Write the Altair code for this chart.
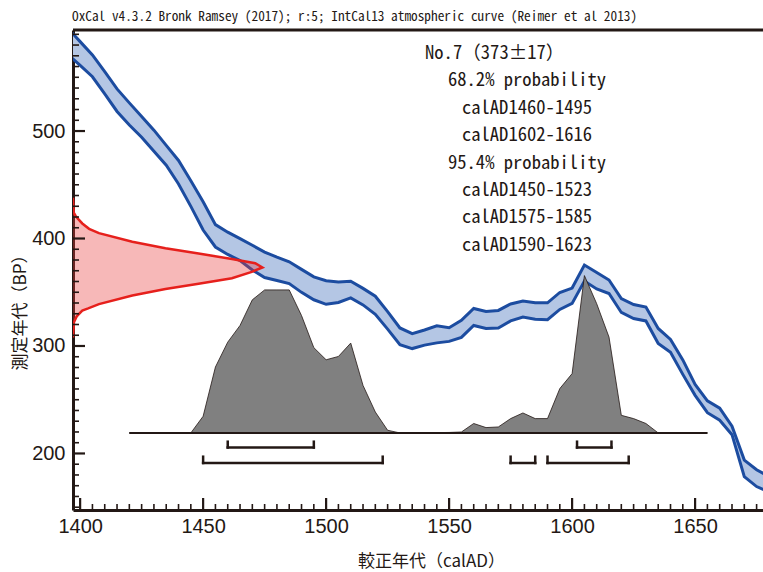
import altair as alt
import pandas as pd

# ---- IntCal13 calibration band (BP), 5-year grid ----
cal_year = [1395, 1400, 1405, 1410, 1415, 1420, 1425, 1430, 1435, 1440,
            1445, 1450, 1455, 1460, 1465, 1470, 1475, 1480, 1485, 1490,
            1495, 1500, 1505, 1510, 1515, 1520, 1525, 1530, 1535, 1540,
            1545, 1550, 1555, 1560, 1565, 1570, 1575, 1580, 1585, 1590,
            1595, 1600, 1605, 1610, 1615, 1620, 1625, 1630, 1635, 1640,
            1645, 1650, 1655, 1660, 1665, 1670, 1675, 1680]
cal_upper = [595.6, 583.2, 570.8, 555.2, 539.2, 526.2, 513.6, 500.8, 486.7, 472.6,
             453.8, 434.1, 412.9, 405.9, 399.9, 393.7, 387.4, 382.6, 378.3, 371.3,
             364.3, 360.7, 359.6, 360.2, 353.6, 346.3, 332.0, 316.8, 311.5, 314.9,
             318.7, 317.0, 323.8, 334.9, 332.1, 333.1, 339.1, 341.9, 340.2, 340.2,
             349.8, 353.9, 375.3, 368.3, 361.4, 344.2, 338.6, 336.3, 316.3, 306.1,
             287.1, 264.3, 249.0, 242.1, 225.3, 193.8, 184.8, 178.5]
cal_lower = [571.5, 561.0, 550.5, 534.6, 518.2, 505.6, 494.2, 481.2, 468.2, 450.8,
             429.9, 407.9, 392.1, 385.2, 379.5, 370.7, 363.7, 360.9, 358.1, 349.9,
             343.0, 338.8, 340.5, 344.7, 338.2, 329.4, 315.7, 301.2, 297.6, 300.8,
             302.9, 304.3, 308.0, 319.1, 316.3, 316.8, 323.3, 327.0, 324.9, 324.4,
             334.0, 339.6, 360.4, 353.0, 348.8, 331.2, 325.6, 323.3, 302.4, 294.1,
             273.6, 254.1, 237.9, 230.9, 217.5, 178.5, 169.2, 164.1]

# ---- measured radiocarbon age 373±17 BP (relative probability) ----
meas_bp = [438, 424, 421, 418, 414, 409, 405, 397, 391, 386, 381, 377, 373,
           369, 363, 358, 353, 347, 339, 335, 333, 329, 327, 322, 308]
meas_p = [0.0, 0.004, 0.014, 0.028, 0.049, 0.085, 0.137, 0.313, 0.488, 0.663, 0.839, 0.962, 1.0,
          0.944, 0.839, 0.663, 0.488, 0.313, 0.137, 0.08, 0.049, 0.027, 0.018, 0.005, 0.0]

# ---- calibrated date distribution (relative probability) ----
post_year = [1420, 1445, 1450, 1455, 1460, 1465, 1470, 1475, 1480, 1485,
             1490, 1495, 1500, 1505, 1510, 1515, 1520, 1525, 1530, 1550,
             1555, 1560, 1565, 1570, 1575, 1580, 1585, 1590, 1595, 1600,
             1605, 1610, 1615, 1620, 1625, 1630, 1635, 1655]
post_p = [0.0, 0.0, 0.106, 0.419, 0.577, 0.683, 0.846, 0.909, 0.909, 0.909,
          0.746, 0.542, 0.465, 0.486, 0.571, 0.302, 0.133, 0.017, 0.0, 0.003,
          0.006, 0.06, 0.034, 0.038, 0.091, 0.127, 0.091, 0.091, 0.282, 0.377,
          1.0, 0.821, 0.609, 0.112, 0.091, 0.06, 0.0, 0.0]

# ---- calibrated ranges ----
range68_start = [1460, 1602]
range68_end = [1495, 1616]
range95_start = [1450, 1575, 1590]
range95_end = [1523, 1585, 1623]

# ---- annotation text ----
title_text = "OxCal v4.3.2 Bronk Ramsey (2017); r:5; IntCal13 atmospheric curve (Reimer et al 2013)"
sample_text = "No.7（373±17）"
range_text = ["68.2% probability", "calAD1460-1495", "calAD1602-1616",
              "95.4% probability", "calAD1450-1523", "calAD1575-1585", "calAD1590-1623"]

x_ticks = [1400, 1450, 1500, 1550, 1600, 1650]
y_ticks = [200, 300, 400, 500]

# ---- layout / style ----
W, H = 690, 480
X0, X1 = 1397.1, 1677.6
Y0, Y1 = 147.4, 594.0
INK = "#231815"
BLUE = "#1c4ca0"
BLUE_FILL = "#b4c6e4"
RED = "#e6201c"
MONO = "Noto Sans Mono CJK JP, DejaVu Sans Mono, monospace"
NARROW = "Liberation Sans Narrow, Arial Narrow, Liberation Sans, sans-serif"
CJK = "Noto Sans CJK JP, sans-serif"

xs = alt.Scale(domain=[X0, X1], nice=False, zero=False)
ys = alt.Scale(domain=[Y0, Y1], nice=False, zero=False)

x_axis = alt.Axis(values=x_ticks, format="d", title="較正年代（calAD）", grid=False, ticks=False,
                  domain=True, domainColor=INK, domainWidth=3,
                  labelFont=NARROW, labelFontSize=20, labelColor=INK, labelPadding=6,
                  titleFont=CJK, titleFontSize=17, titleFontWeight="normal",
                  titleColor=INK, titlePadding=17, titleX=358)
y_axis = alt.Axis(values=y_ticks, format="d", title="測定年代（BP）", grid=False, ticks=False,
                  domain=True, domainColor=INK, domainWidth=3,
                  labelFont=NARROW, labelFontSize=20, labelColor=INK, labelPadding=8,
                  titleFont=CJK, titleFontSize=17, titleFontWeight="normal",
                  titleColor=INK, titlePadding=2, titleY=278)


def X(field):
    return alt.X(field, scale=xs, axis=x_axis)


def Y(field):
    return alt.Y(field, scale=ys, axis=y_axis)


band = pd.DataFrame({"year": cal_year, "upper": cal_upper, "lower": cal_lower})
band_long = pd.concat([
    pd.DataFrame({"year": cal_year, "bp": cal_upper, "edge": "upper"}),
    pd.DataFrame({"year": cal_year, "bp": cal_lower, "edge": "lower"}),
])

band_fill = alt.Chart(band).mark_area(color=BLUE_FILL, clip=True).encode(
    x=X("year:Q"), y=Y("upper:Q"), y2="lower:Q",
)
band_lines = alt.Chart(band_long).mark_line(color=BLUE, strokeWidth=3, clip=True).encode(
    x=X("year:Q"), y=Y("bp:Q"), detail="edge:N",
)

# calibrated distribution drawn above a baseline
POST_BASE = 219.1
POST_SCALE = 146.4
post = pd.DataFrame({"year": post_year, "p": post_p})
post_area = alt.Chart(post).transform_calculate(
    top=f"{POST_BASE} + datum.p * {POST_SCALE}", base=f"{POST_BASE}"
).mark_area(color="#808080", stroke=INK, strokeWidth=0.8, clip=True).encode(
    x=X("year:Q"), y=Y("top:Q"), y2="base:Q",
)
post_base = alt.Chart(pd.DataFrame({"a": [post_year[0]], "b": [post_year[-1]]})).transform_calculate(
    v=f"{POST_BASE}"
).mark_rule(color=INK, strokeWidth=2).encode(
    x=X("a:Q"), x2="b:Q", y=Y("v:Q"),
)

# measured age on the y axis
MEAS_SCALE = 77.0
meas = pd.DataFrame({"bp": meas_bp, "p": meas_p})
meas_calc = alt.Chart(meas).transform_calculate(
    x=f"{X0} + datum.p * {MEAS_SCALE}", base=f"{X0}"
)
meas_area = meas_calc.mark_area(orient="horizontal", color="#ea3a3a", opacity=0.36, clip=True).encode(
    y=Y("bp:Q"), x=X("x:Q"), x2="base:Q",
)
meas_line = meas_calc.mark_line(color=RED, strokeWidth=2.5, clip=True).encode(
    y=Y("bp:Q"), x=X("x:Q"), order=alt.Order("bp:Q"),
)


# range brackets
def brackets(starts, ends, y_line, y_top):
    df = pd.DataFrame({"s": starts, "e": ends})
    horiz = alt.Chart(df).mark_rule(color=INK, strokeWidth=2.5, strokeCap="square").encode(
        x=X("s:Q"), x2="e:Q", y=alt.value(y_line)
    )
    ends_df = pd.DataFrame({"t": list(starts) + list(ends)})
    vert = alt.Chart(ends_df).mark_rule(color=INK, strokeWidth=2.5, strokeCap="square").encode(
        x=X("t:Q"), y=alt.value(y_top), y2=alt.value(y_line)
    )
    return [horiz, vert]


br68 = brackets(range68_start, range68_end, 417.5, 411.7)
br95 = brackets(range95_start, range95_end, 433.0, 426.7)

# inward tick marks
x_major = pd.DataFrame({"t": x_ticks})
x_minor = pd.DataFrame({"t": [v for v in range(1400, 1680, 5) if v % 50]})
y_major = pd.DataFrame({"t": y_ticks})
y_minor = pd.DataFrame({"t": [v for v in range(150, 600, 10) if v % 100]})

tick_x_major = alt.Chart(x_major).mark_rule(color=INK, strokeWidth=2.2).encode(
    x=X("t:Q"), y=alt.value(H), y2=alt.value(H - 12))
tick_x_minor = alt.Chart(x_minor).mark_rule(color=INK, strokeWidth=1.6).encode(
    x=X("t:Q"), y=alt.value(H), y2=alt.value(H - 6))
tick_y_major = alt.Chart(y_major).mark_rule(color=INK, strokeWidth=2.2).encode(
    y=Y("t:Q"), x=alt.value(0), x2=alt.value(12))
tick_y_minor = alt.Chart(y_minor).mark_rule(color=INK, strokeWidth=1.6).encode(
    y=Y("t:Q"), x=alt.value(0), x2=alt.value(6))

top_line = alt.Chart(pd.DataFrame({"k": [0]})).mark_rule(color=INK, strokeWidth=3).encode(
    x=alt.value(0), x2=alt.value(W), y=alt.value(0))

# text annotations
title_mark = alt.Chart(pd.DataFrame({"t": [title_text]})).mark_text(
    font=MONO, fontSize=13.3, color=INK, align="left", baseline="middle"
).encode(text="t:N", x=alt.value(-1), y=alt.value(-13))

sample_mark = alt.Chart(pd.DataFrame({"t": [sample_text]})).mark_text(
    font=MONO, fontSize=18.6, color=INK, align="left", baseline="middle"
).encode(text="t:N", x=alt.value(352), y=alt.value(23))

range_marks = []
for i, line in enumerate(range_text, start=1):
    range_marks.append(
        alt.Chart(pd.DataFrame({"t": [line]})).mark_text(
            font=MONO, fontSize=18.6, color=INK, align="center", baseline="middle"
        ).encode(text="t:N", x=alt.value(454), y=alt.value(23 + i * 27.4))
    )

chart = alt.layer(
    band_fill, band_lines, post_area, post_base, meas_area, meas_line,
    *br68, *br95,
    tick_x_major, tick_x_minor, tick_y_major, tick_y_minor, top_line,
    title_mark, sample_mark, *range_marks,
).properties(
    width=W, height=H,
    autosize=alt.AutoSizeParams(type="none"),
    padding={"left": 73, "top": 30, "right": 0, "bottom": 62},
    background="white",
).configure_view(strokeWidth=0)

chart.save("out.html", embed_options={"renderer": "svg", "actions": False})
